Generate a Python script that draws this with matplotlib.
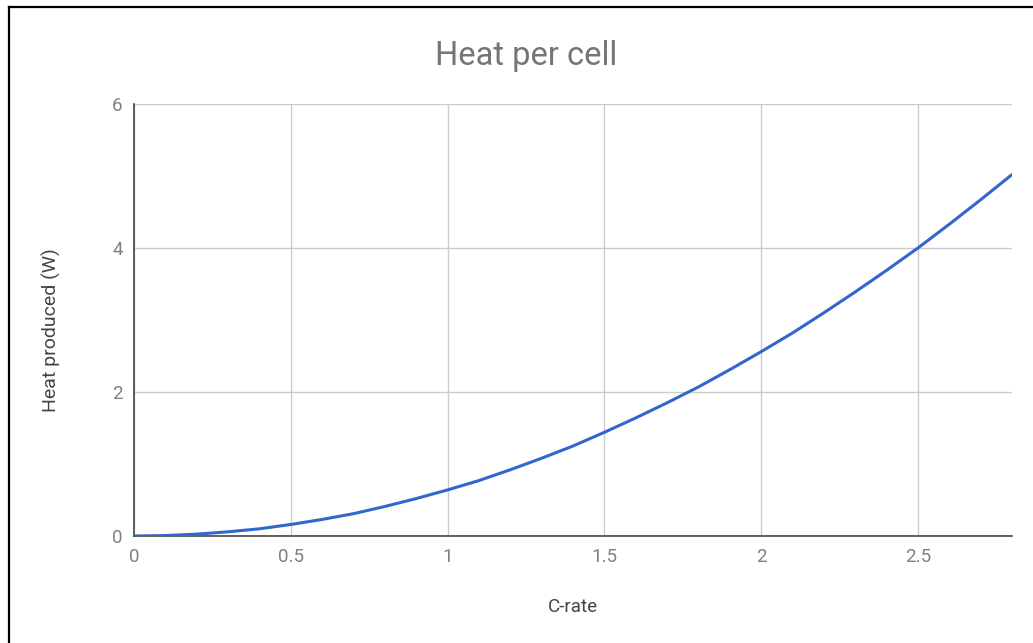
import matplotlib.pyplot as plt
from matplotlib.lines import Line2D

# values
c_rate = [0.0, 0.1, 0.2, 0.3, 0.4, 0.5, 0.6, 0.7, 0.8, 0.9, 1.0,
          1.1, 1.2, 1.3, 1.4, 1.5, 1.6, 1.7, 1.8, 1.9, 2.0,
          2.1, 2.2, 2.3, 2.4, 2.5, 2.6, 2.7, 2.8]
heat_w = [0.0, 0.006, 0.026, 0.058, 0.10, 0.16, 0.23, 0.31, 0.41, 0.52, 0.64,
          0.77, 0.92, 1.08, 1.25, 1.44, 1.64, 1.85, 2.07, 2.31, 2.56,
          2.82, 3.10, 3.39, 3.69, 4.00, 4.33, 4.67, 5.02]
x_ticks = [0, 0.5, 1, 1.5, 2, 2.5]
x_tick_labels = ['0', '0.5', '1', '1.5', '2', '2.5']
y_ticks = [0, 2, 4, 6]
y_tick_labels = ['0', '2', '4', '6']

plt.rcParams['font.family'] = ['Roboto', 'DejaVu Sans']

fig = plt.figure(figsize=(10.33, 6.43), dpi=100)
ax = fig.add_axes([0.1297, 0.1664, 0.85, 0.6719])

ax.plot(c_rate, heat_w, color='#3366cc', linewidth=2.2, solid_capstyle='round', zorder=3)

ax.set_xlim(0, 2.8)
ax.set_ylim(0, 6)
ax.set_xticks(x_ticks)
ax.set_xticklabels(x_tick_labels)
ax.set_yticks(y_ticks)
ax.set_yticklabels(y_tick_labels)
ax.tick_params(length=0, labelsize=13.5, labelcolor='#808080')
ax.tick_params(axis='x', pad=8.5)
ax.tick_params(axis='y', pad=8)

ax.grid(True, color='#cccccc', linewidth=1.0)
ax.set_axisbelow(True)
for side in ['top', 'right']:
    ax.spines[side].set_visible(False)
for side in ['left', 'bottom']:
    ax.spines[side].set_color('#444444')
    ax.spines[side].set_linewidth(1.2)

ax.set_xlabel('C-rate', fontsize=13.5, color='#444444', labelpad=23)
ax.set_ylabel('Heat produced (W)', fontsize=14, color='#444444')
ax.yaxis.set_label_coords(-0.0836, 0.477)
fig.text(0.509, 0.913, 'Heat per cell', ha='center', va='center', fontsize=23.5, color='#757575')

# black frame on top and left, like the cropped screenshot
fig.add_artist(Line2D([0.0083, 0.0083], [0, 0.989], color='black', linewidth=1.6, transform=fig.transFigure))
fig.add_artist(Line2D([0.0083, 1.0], [0.989, 0.989], color='black', linewidth=1.6, transform=fig.transFigure))

fig.savefig('out.png', dpi=100)
